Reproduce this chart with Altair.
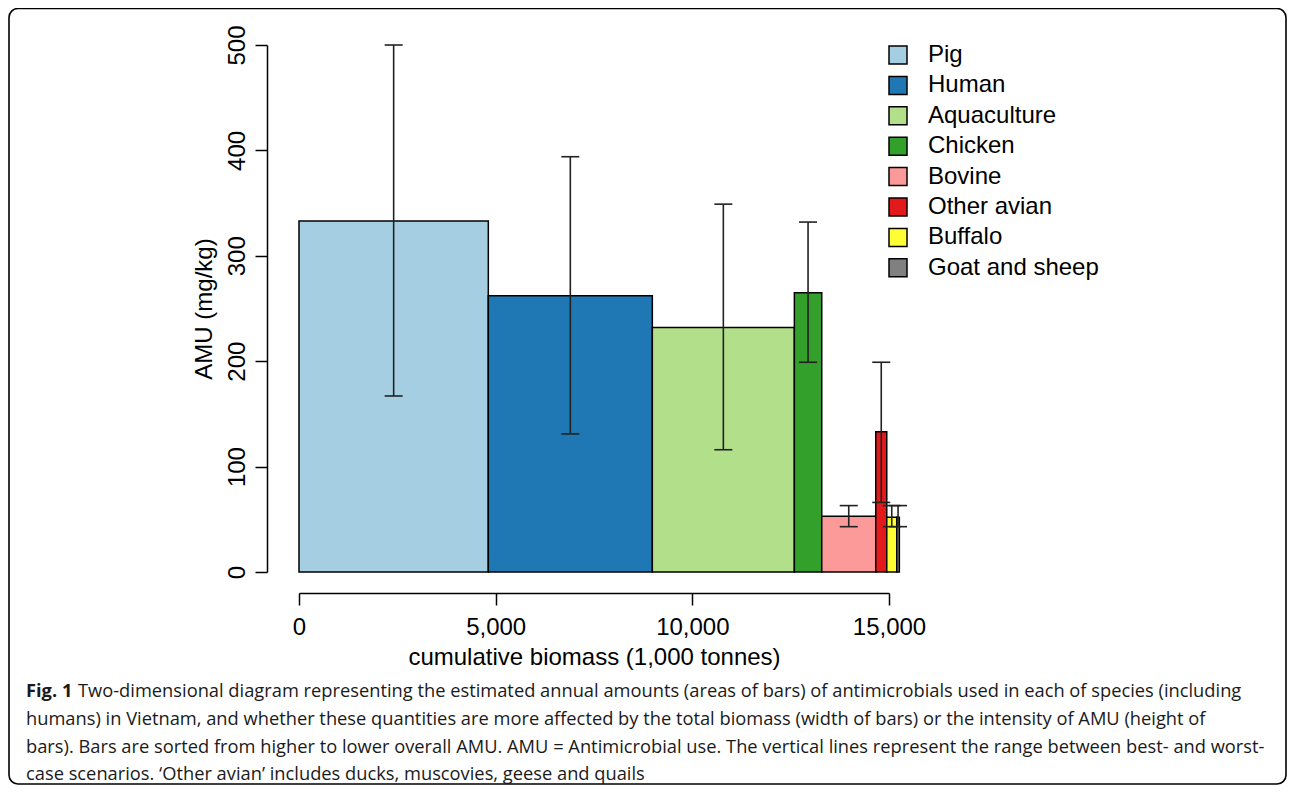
import altair as alt
import pandas as pd
import numpy as np

# ---- data ----
species = ["Pig", "Human", "Aquaculture", "Chicken", "Bovine",
           "Other avian", "Buffalo", "Goat and sheep"]
biomass = [4813, 4170, 3611, 696, 1373, 280, 254, 66]      # 1,000 tonnes (bar widths)
amu = [333, 262, 232, 265, 53, 133, 52, 52]                  # mg/kg (bar heights)
amu_low = [167, 131, 116, 199, 43, 66, 43, 43]               # best case
amu_high = [500, 394, 349, 332, 63, 199, 63, 63]             # worst case
colors = ["#A6CEE3", "#1F78B4", "#B2DF8A", "#33A02C", "#FB9A99",
          "#E31A1C", "#FFFF33", "#808080"]
x_ticks = [0, 5000, 10000, 15000]
y_ticks = [0, 100, 200, 300, 400, 500]

caption_bold = "Fig. 1"
caption_lines = [
    "Two-dimensional diagram representing the estimated annual amounts (areas of bars) of antimicrobials used in each of species (including",
    "humans) in Vietnam, and whether these quantities are more affected by the total biomass (width of bars) or the intensity of AMU (height of",
    "bars). Bars are sorted from higher to lower overall AMU. AMU = Antimicrobial use. The vertical lines represent the range between best- and worst-",
    "case scenarios. \u2018Other avian\u2019 includes ducks, muscovies, geese and quails",
]

ends = np.cumsum(biomass)
df = pd.DataFrame({
    "species": species,
    "start": ends - np.array(biomass),
    "end": ends,
    "mid": ends - np.array(biomass) / 2.0,
    "amu": amu,
    "low": amu_low,
    "high": amu_high,
})

FONT = "Liberation Sans"
CAP_FONT = "Open Sans"
CAP_SIZE = 18.3
xs = alt.Scale(domain=[0, 15000], nice=False, zero=False)
ys = alt.Scale(domain=[0, 500], nice=False)

x_axis = alt.Axis(values=x_ticks, format=",d", title="cumulative biomass (1,000 tonnes)",
                  offset=21, tickSize=12, labelPadding=10, titlePadding=6, grid=False,
                  labelFlush=False, labelOverlap=False)
y_axis = alt.Axis(values=y_ticks, title="AMU (mg/kg)", offset=32, tickSize=12,
                  labelAngle=-90, labelAlign="center", labelBaseline="bottom",
                  labelPadding=6, titlePadding=9, grid=False,
                  labelFlush=False, labelOverlap=False)

bars = alt.Chart(df).mark_rect(stroke="black", strokeWidth=1.5).encode(
    x=alt.X("start:Q", scale=xs, axis=x_axis),
    x2="end:Q",
    y=alt.Y("amu:Q", scale=ys, axis=y_axis),
    y2=alt.datum(0),
    color=alt.Color("species:N", sort=species,
                    scale=alt.Scale(domain=species, range=colors),
                    legend=alt.Legend(title=None, orient="none", legendX=587, legendY=-2,
                                      labelLimit=400)),
)

err = alt.Chart(df).mark_rule(color="#222222", strokeWidth=1.6).encode(
    x=alt.X("mid:Q", scale=xs, axis=x_axis),
    y=alt.Y("low:Q", scale=ys, axis=y_axis),
    y2="high:Q",
)
cap_lo = alt.Chart(df).mark_tick(orient="horizontal", size=18, thickness=1.6, color="#222222", opacity=1).encode(
    x=alt.X("mid:Q", scale=xs, axis=x_axis),
    y=alt.Y("low:Q", scale=ys, axis=y_axis),
)
cap_hi = alt.Chart(df).mark_tick(orient="horizontal", size=18, thickness=1.6, color="#222222", opacity=1).encode(
    x=alt.X("mid:Q", scale=xs, axis=x_axis),
    y=alt.Y("high:Q", scale=ys, axis=y_axis),
)

one = pd.DataFrame({"k": [0]})
box = alt.Chart(one).mark_rect(cornerRadius=9, fillOpacity=0, stroke="black", strokeWidth=1.6).encode(
    x=alt.value(-290), x2=alt.value(987), y=alt.value(-36.5), y2=alt.value(739),
)

cap_layers = [
    alt.Chart(one).mark_text(text=caption_bold, font=CAP_FONT, fontWeight="bold", fontSize=CAP_SIZE,
                             align="left", baseline="middle", color="#1a1a1a").encode(
        x=alt.value(26 - 299), y=alt.value(692 - 45))
]
line_y = [692, 720, 748, 775]
line_x = [78, 26, 26, 26]
for txt, yy, xx in zip(caption_lines, line_y, line_x):
    cap_layers.append(
        alt.Chart(one).mark_text(text=txt, font=CAP_FONT, fontSize=CAP_SIZE,
                                 align="left", baseline="middle", color="#1a1a1a").encode(
            x=alt.value(xx - 299), y=alt.value(yy - 45))
    )

chart = alt.layer(bars, err, cap_lo, cap_hi, box, *cap_layers).properties(
    width=590, height=527,
    padding={"left": 291, "top": 37, "right": 398, "bottom": 213},
    autosize=alt.AutoSizeParams(type="none"),
).configure_view(stroke=None).configure_axis(
    labelFont=FONT, labelFontSize=24, labelColor="black",
    titleFont=FONT, titleFontSize=24, titleFontWeight="normal", titleColor="black",
    domainColor="black", domainWidth=1.5, tickColor="black", tickWidth=1.5,
).configure_legend(
    symbolType="square", symbolSize=324, symbolStrokeColor="black", symbolStrokeWidth=1.5,
    symbolOpacity=1, labelFont=FONT, labelFontSize=24, labelColor="black",
    labelOffset=18, rowPadding=6.4, padding=0,
)

chart.save("out.html", embed_options={"renderer": "svg", "actions": False})
